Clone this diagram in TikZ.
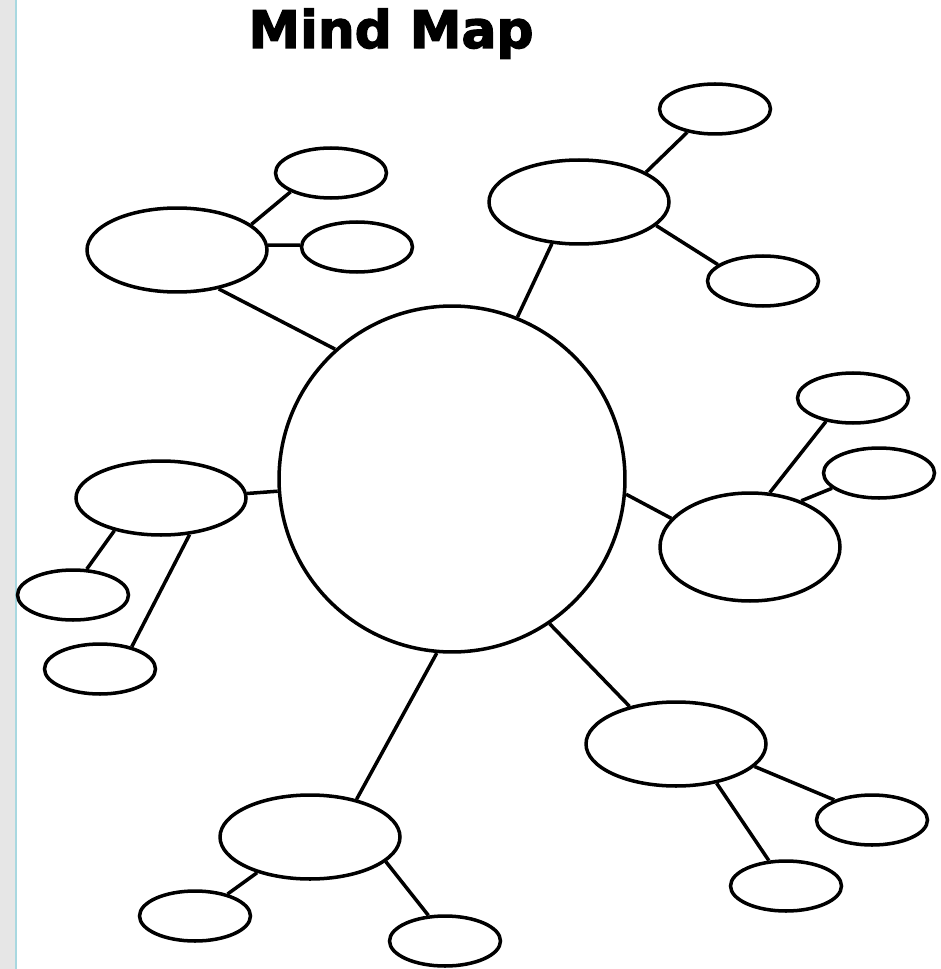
\documentclass[tikz,border=0pt]{standalone}
\usepackage{fontspec}
\usepackage{tikz}
\usetikzlibrary{shapes.geometric}
\newfontfamily\titlefont[FakeBold=2.5]{DejaVu Sans}
\definecolor{edgegrey}{HTML}{E6E6E6}
\definecolor{edgeblue}{HTML}{A8D8E0}

\begin{document}
\begin{tikzpicture}[
    x=0.02cm, y=-0.02cm,
    hub/.style={draw, circle, line width=2pt, minimum size=6.92cm, inner sep=0pt},
    branch/.style={draw, ellipse, line width=2pt, minimum width=3.6cm, minimum height=1.68cm, inner sep=0pt},
    leaf/.style={draw, ellipse, line width=2pt, minimum width=2.22cm, minimum height=1cm, inner sep=0pt},
    link/.style={line width=2pt},
    ttl/.style={font=\titlefont\bfseries\fontsize{29.5}{32}\selectfont, inner sep=0pt, anchor=base}
]
    \useasboundingbox (0,0) rectangle (940,969);
    \fill[edgegrey] (0,0) rectangle (15,969);
    \fill[edgeblue] (15,0) rectangle (17,969);
    \node[ttl] (title) at (391,48) {Mind Map};

    \node[hub] (h) at (452,479) {};

    % top left
    \node[branch] (a) at (177,250) {};
    \node[leaf] (a1) at (331,173) {};
    \node[leaf] (a2) at (357,247) {};
    % top right
    \node[branch] (b) at (579,202) {};
    \node[leaf] (b1) at (715,109) {};
    \node[leaf] (b2) at (763,281) {};
    % right
    \node[branch, minimum height=2.16cm] (c) at (750,547) {};
    \node[leaf] (c1) at (853,398) {};
    \node[leaf] (c2) at (879,473) {};
    % left
    \node[branch, minimum width=3.4cm, minimum height=1.48cm] (d) at (161,498) {};
    \node[leaf] (d1) at (73,595) {};
    \node[leaf] (d2) at (100,669) {};
    % bottom right
    \node[branch] (e) at (676,744) {};
    \node[leaf] (e1) at (872,820) {};
    \node[leaf] (e2) at (786,886) {};
    % bottom
    \node[branch] (f) at (310,837) {};
    \node[leaf] (f1) at (195,916) {};
    \node[leaf] (f2) at (445,941) {};

    \draw[link] (a.-43) -- (h.132);
    \draw[link] (a.19) -- (a1.-155);
    \draw[link] (a.3) -- (a2.178);

    \draw[link] (b.-123) -- (h.68);
    \draw[link] (b.24) -- (b1.-140);
    \draw[link] (b.-17) -- (b2.160);

    \draw[link] (h.-5) -- (c.160);
    \draw[link] (c.70) -- (c1.-139);
    \draw[link] (c.42) -- (c2.-162);

    \draw[link] (d.3) -- (h.-176);
    \draw[link] (d.-145) -- (d1.62);
    \draw[link] (d.-52) -- (d2.35);

    \draw[link] (h.-56) -- (e.141);
    \draw[link] (e.-16) -- (e1.152);
    \draw[link] (e.-44) -- (e2.124);

    \draw[link] (h.-95) -- (f.39);
    \draw[link] (f.-146) -- (f1.34);
    \draw[link] (f.-18) -- (f2.123);
\end{tikzpicture}
\end{document}
